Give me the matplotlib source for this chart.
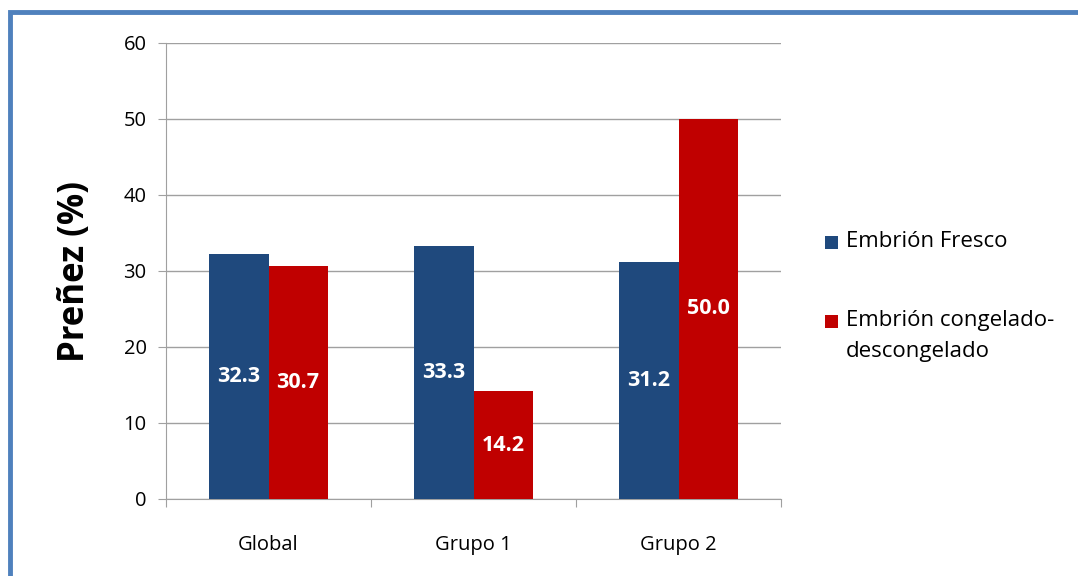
import matplotlib.pyplot as plt
import matplotlib.patches as mpatches
import numpy as np

# --- data ---
categories = ["Global", "Grupo 1", "Grupo 2"]
fresco = [32.3, 33.3, 31.2]
congelado = [30.7, 14.2, 50.0]
series_names = ["Embrión Fresco", "Embrión congelado-\ndescongelado"]

BLUE = "#1F497D"
RED = "#C00000"
BORDER = "#4F81BD"
GRID = "#A0A0A0"

plt.rcParams['font.family'] = ['Open Sans', 'DejaVu Sans']

fig = plt.figure(figsize=(10.78, 5.76), dpi=100)
W, H = 1078, 576

# blue frame around the chart (top and left edges visible)
fig.patches.append(mpatches.Rectangle((10 / W, -0.1), 1.2, (H - 12) / H + 0.1,
                                      transform=fig.transFigure, fill=False,
                                      edgecolor=BORDER, linewidth=3.5))

ax = fig.add_axes([166 / W, 1 - 499 / H, (781 - 166) / W, (499 - 43) / H])

x = np.arange(len(categories))
w = 0.288
b1 = ax.bar(x - w / 2, fresco, w, color=BLUE, zorder=3)
b2 = ax.bar(x + w / 2, congelado, w, color=RED, zorder=3)

for bars, vals in ((b1, fresco), (b2, congelado)):
    for bar, v in zip(bars, vals):
        ax.text(bar.get_x() + bar.get_width() / 2, v / 2, f"{v:.1f}",
                ha="center", va="center", color="white", fontsize=15.5,
                fontweight="bold", zorder=4)

ax.set_xlim(-0.5, 2.5)
ax.set_ylim(0, 60)
ax.set_yticks(range(0, 61, 10))
ax.yaxis.grid(True, color=GRID, linewidth=1, zorder=0)
ax.set_axisbelow(True)

for s in ["top", "right"]:
    ax.spines[s].set_visible(False)
for s in ["left", "bottom"]:
    ax.spines[s].set_color(GRID)

ax.set_xticks([-0.5, 0.5, 1.5, 2.5], minor=False)
ax.set_xticklabels([])
ax.set_xticks(x, minor=True)
ax.set_xticklabels(categories, minor=True, fontsize=14.5)
ax.tick_params(axis="x", which="major", length=6, color=GRID)
ax.tick_params(axis="x", which="minor", length=0, pad=26)
ax.tick_params(axis="y", length=6, color=GRID, labelsize=14.5, pad=8)

ax.set_ylabel("Preñez (%)", fontsize=25, fontweight="bold", labelpad=22)

# --- legend, drawn by hand so the square sits on the first text line ---
legend_rows = [243, 322]  # pixel y of each entry's first line
for name, col, ypx in zip(series_names, [BLUE, RED], legend_rows):
    fig.patches.append(mpatches.Rectangle((825 / W, 1 - (ypx + 6) / H), 13 / W, 13 / H,
                                          transform=fig.transFigure,
                                          facecolor=col, edgecolor="none"))
    fig.text(846 / W, 1 - (ypx - 12) / H, name, fontsize=16, va="top",
             ha="left", linespacing=1.65)

fig.savefig("out.png", dpi=100)
